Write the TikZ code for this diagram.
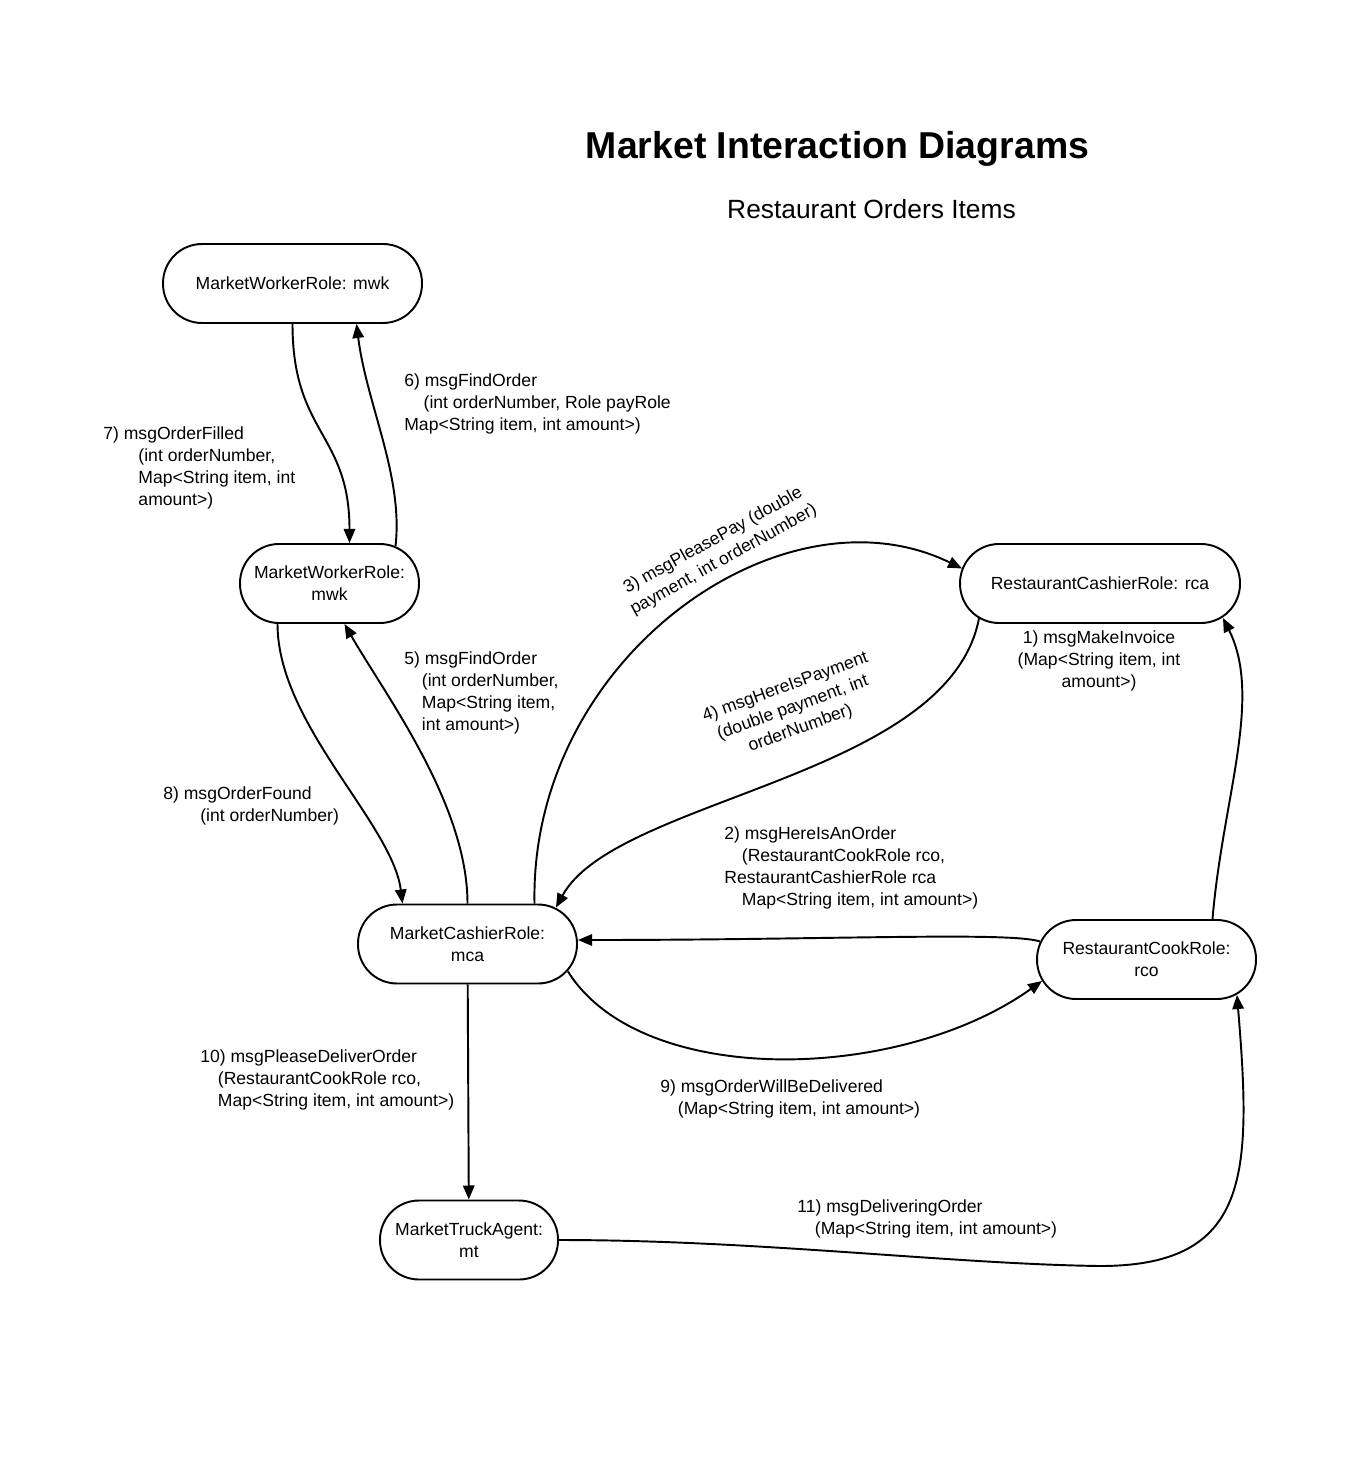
\documentclass[tikz,border=0pt]{standalone}
\usepackage{fontspec}
\setmainfont{Liberation Sans}
\usetikzlibrary{positioning,arrows.meta,calc}
\tikzset{
  role/.style ={draw, line width=1.1pt, rounded corners=0.78cm, minimum height=1.58cm,
                align=center, inner sep=2pt, font=\fontsize{10}{12.5}\selectfont},
  msg/.style  ={-{Triangle[length=8pt,width=6.5pt]}, line width=1.1pt},
  lbl/.style  ={anchor=base west, align=left, inner sep=0pt,
                font=\fontsize{10}{12.5}\selectfont},
  clbl/.style ={lbl, anchor=base, align=center},
}
\newcommand{\ind}{\hspace*{10pt}}

\begin{document}
\begin{tikzpicture}[x=0.02cm, y=-0.02cm]
  \path[fill=white, use as bounding box] (0,0) rectangle (1360,1483);

  \node[font=\fontsize{21.3}{25}\selectfont\bfseries, anchor=base] (title) at (837.5,159)
    {Market Interaction Diagrams};
  \node[font=\fontsize{15}{18}\selectfont, anchor=base] (sub) at (871.5,219)
    {Restaurant Orders Items};

  % roles
  \node[role, minimum width=5.18cm] (mwkA) at (292.5,283.5) {MarketWorkerRole: mwk};
  \node[role, minimum width=3.58cm] (mwkB) at (329.5,583.5) {MarketWorkerRole:\\mwk};
  \node[role, minimum width=5.6cm]  (rca)  at (1100,583.5)  {RestaurantCashierRole: rca};
  \node[role, minimum width=4.38cm] (mca)  at (467.5,944)   {MarketCashierRole:\\mca};
  \node[role, minimum width=4.38cm] (rco)  at (1146.5,959.5) {RestaurantCookRole:\\rco};
  \node[role, minimum width=3.56cm] (mt)   at (469,1240)    {MarketTruckAgent:\\mt};
  \coordinate (dlv) at (1100,1266);

  % messages
  \draw[msg] ($(rco.north)+(66,0)$) .. controls +(10,-120) and +(40,80)
    .. ($(rca.south east)+(-18,-6)$);
  \draw[msg] ($(rco.west)+(4,-18)$) .. controls +(-30,-10) and +(250,0)
    .. ($(mca.east)+(0,-4)$);
  \draw[msg] ($(mca.north)+(67,0)$) .. controls +(-5,-245) and +(-180,-88)
    .. ($(rca.west)+(3,-15)$);
  \draw[msg] ($(rca.south west)+(20,-6)$) .. controls +(-30,160) and +(60,-110)
    .. ($(mca.north east)+(-22,4)$);
  \draw[msg] (mca.north) .. controls +(0,-100) and +(40,70)
    .. ($(mwkB.south)+(15,0)$);
  \draw[msg] ($(mwkB.north)+(66,3)$) .. controls +(8,-70) and +(10,80)
    .. ($(mwkA.south)+(64,0)$);
  \draw[msg] (mwkA.south) .. controls +(0,110) and +(0,-110)
    .. ($(mwkB.north)+(20,0)$);
  \draw[msg] ($(mwkB.south)+(-52,0)$) .. controls +(0,100) and +(-10,-80)
    .. ($(mca.north)+(-65,0)$);
  \draw[msg] ($(mca.south east)+(-10,-13)$) .. controls +(73,117) and +(-143,102)
    .. ($(rco.south west)+(6,-19)$);
  \draw[msg] (mca) -- (mt);
  \draw[msg] (mt.east) .. controls +(200,0) and +(-150,-2) .. (dlv)
    .. controls +(150,0) and +(15,180) .. ($(rco.south east)+(-20,-5)$);

  % labels (base = last line)
  \node[clbl] (l1) at (1099,687) {1) msgMakeInvoice\\(Map<String item, int\\amount>)};
  \node[lbl] (l2) at (724,905) {2) msgHereIsAnOrder\\\ind(RestaurantCookRole rco,\\
    RestaurantCashierRole rca\\\ind Map<String item, int amount>)};
  \node[clbl, rotate=29] (l3) at (726,564) {3) msgPleasePay (double\\payment, int orderNumber)};
  \node[clbl, rotate=20] (l4) at (802,733) {4) msgHereIsPayment\\(double payment, int\\orderNumber)};
  \node[lbl] (l5) at (404,730) {5) msgFindOrder\\\ind(int orderNumber,\\\ind Map<String item,\\
    \ind int amount>)};
  \node[lbl] (l6) at (404,430) {6) msgFindOrder\\\hspace*{11pt}(int orderNumber, Role payRole\\
    Map<String item, int amount>)};
  \node[lbl] (l7) at (103,505) {7) msgOrderFilled\\\hspace*{20pt}(int orderNumber,\\
    \hspace*{20pt}Map<String item, int\\\hspace*{20pt}amount>)};
  \node[lbl] (l8) at (163,821) {8) msgOrderFound\\\hspace*{21pt}(int orderNumber)};
  \node[lbl] (l9) at (660,1114) {9) msgOrderWillBeDelivered\\\ind(Map<String item, int amount>)};
  \node[lbl] (l10) at (200,1106) {10) msgPleaseDeliverOrder\\\ind(RestaurantCookRole rco,\\
    \ind Map<String item, int amount>)};
  \node[lbl] (l11) at (797,1234) {11) msgDeliveringOrder\\\ind(Map<String item, int amount>)};
\end{tikzpicture}
\end{document}
